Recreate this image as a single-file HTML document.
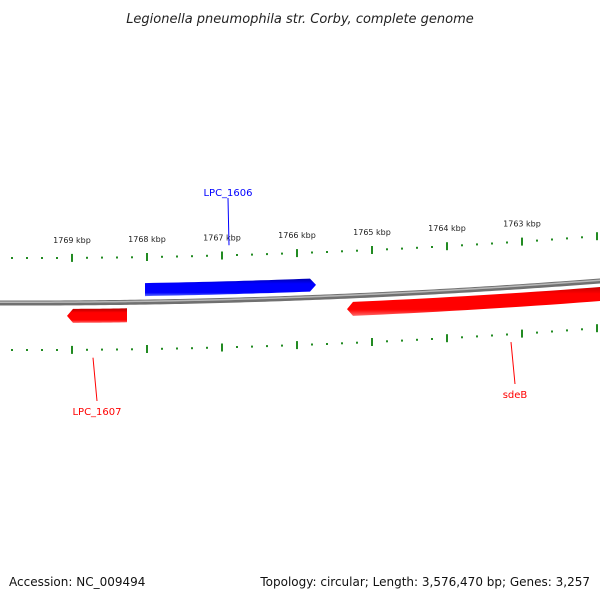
<!DOCTYPE html>
<html><head><meta charset="utf-8"><style>
body{margin:0;background:#fff;}
svg{display:block;font-family:"DejaVu Sans","Liberation Sans",sans-serif;}
</style></head><body>
<svg id="c" width="600" height="600" viewBox="0 0 600 600">
<defs>
<linearGradient id="gBlue" x1="0" y1="0" x2="0" y2="1"><stop offset="0" stop-color="#0000b0"/><stop offset="0.3" stop-color="#0000ff"/><stop offset="0.8" stop-color="#0000ff"/><stop offset="1" stop-color="#5a6cff"/></linearGradient>
<linearGradient id="gRed" x1="0" y1="0" x2="0" y2="1"><stop offset="0" stop-color="#b00000"/><stop offset="0.3" stop-color="#ff0000"/><stop offset="0.8" stop-color="#ff0000"/><stop offset="1" stop-color="#ff6a6a"/></linearGradient>
</defs>
<text x="300" y="23" text-anchor="middle" font-size="13" font-style="italic" fill="#222">Legionella pneumophila str. Corby, complete genome</text>
<g id="ticks"></g>
<path id="backbone" fill="none" stroke="#707070" stroke-width="5"/>
<path id="backbone2" fill="none" stroke="#b8b8b8" stroke-width="1.5"/>
<g id="genes"></g>
<text x="9" y="586" font-size="12" fill="#111">Accession: NC_009494</text>
<text x="590" y="586" font-size="12" fill="#111" text-anchor="end">Topology: circular; Length: 3,576,470 bp; Genes: 3,257</text>
</svg>
<script>
const tickKbp = [1769,1768,1767,1766,1765,1764,1763,1762];
const geneNames = ["LPC_1606","LPC_1607","sdeB"];
const geneStart = [1768027,1769067,1765333];
const geneEnd = [1765747,1768267,1761500];
const geneStrand = [1,-1,-1];
const labelX = [228,97,515];
const labelY = [192,411,394];

const NS="http://www.w3.org/2000/svg";
function X(bp){return 72+(1769000-bp)*0.075;}
function yb(x){return 303+0.00333*x-6.67e-5*x*x;}
function mk(t,a,p){const e=document.createElementNS(NS,t);for(const k in a)e.setAttribute(k,a[k]);p.appendChild(e);return e;}
// backbone
let d="";for(let x=-5;x<=605;x+=5)d+=(x==-5?"M":"L")+x+","+yb(x).toFixed(2);
document.getElementById("backbone").setAttribute("d",d);
document.getElementById("backbone2").setAttribute("d",d.replace(/,([\d.]+)/g,(m,v)=>","+(parseFloat(v)-0.8).toFixed(2)));
// ticks
const tg=document.getElementById("ticks");
for(let bp=1769800;bp>=1761800;bp-=200){
  const x=X(bp);if(x<5||x>605)continue;
  const major=bp%1000===0;
  const h=major?8:2;
  [-45,47].forEach(off=>{
    const y=yb(x)+off;
    const r=mk("rect",{x:(x-1).toFixed(1),y:(y-h/2).toFixed(1),width:2,height:h,fill:"#228b22"},tg);
    
    
  });
}
tickKbp.forEach(k=>{
  const x=X(k*1000);if(x>580)return;
  const t=mk("text",{x:x.toFixed(1),y:(yb(x)-60).toFixed(1),"font-size":"8","text-anchor":"middle",fill:"#222"},tg);
  t.textContent=k+" kbp";
  
  
});
// genes
const gg=document.getElementById("genes");
geneNames.forEach((n,i)=>{
  let x1=X(geneStart[i]),x2=X(geneEnd[i]);
  if(x1>x2){const t=x1;x1=x2;x2=t;}
  const fw=geneStrand[i]>0;
  const o1=fw?-19:6,o2=fw?-6:20;
  let top=[],bot=[];
  const a=fw?x2-6:x1+6;
  const s=fw?x1:a,e=fw?a:x2;
  for(let x=s;x<=e+0.01;x+=(e-s)/20){top.push([x,yb(x)+o1]);bot.push([x,yb(x)+o2]);}
  let pts=[];
  if(fw){const tx=x2;pts=top.concat([[tx,yb(tx)+(o1+o2)/2]],bot.reverse());}
  else{const tx=x1;pts=[[tx,yb(tx)+(o1+o2)/2]].concat(top,bot.reverse());}
  const p=mk("polygon",{points:pts.map(q=>q[0].toFixed(1)+","+q[1].toFixed(1)).join(" "),fill:fw?"url(#gBlue)":"url(#gRed)"},gg);
  
  
  const col=fw?"#0000ff":"#ff0000";
  const lx=labelX[i],ly=labelY[i];
  const ringY=fw?yb(lx)-55:yb(lx)+55;
  const l=mk("line",{x1:lx,y1:fw?ly+6:ly-10,x2:lx+(fw?1:-4),y2:ringY,stroke:col,"stroke-width":1},gg);
  
  
  const t=mk("text",{x:lx,y:ly+4,"font-size":"10","text-anchor":"middle",fill:col},gg);
  t.textContent=n;
  
  
});
</script>
</body></html>
